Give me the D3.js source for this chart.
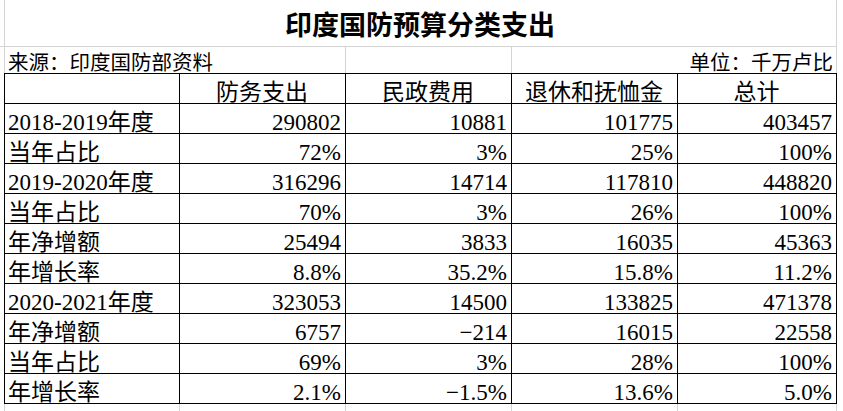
<!DOCTYPE html>
<html>
<head>
<meta charset="utf-8">
<script src="https://cdn.jsdelivr.net/npm/d3@7"></script>
<style>
  body { margin: 0; background: #fff; }
  text { font-family: 'Liberation Serif', 'Noto Sans CJK SC', serif; fill: #000; }
</style>
</head>
<body>
<svg class="chart"></svg>
<script>
var title = '印度国防预算分类支出';
var source = '来源：印度国防部资料';
var unit = '单位：千万卢比';

var categories = ['防务支出', '民政费用', '退休和抚恤金', '总计'];
var rowLabels = ['2018-2019年度', '当年占比', '2019-2020年度', '当年占比', '年净增额',
  '年增长率', '2020-2021年度', '年净增额', '当年占比', '年增长率'];
var rowFormat = ['d', '.0%', 'd', '.0%', 'd', '.1%', 'd', 'd', '.0%', '.1%'];

var defense = [290802, 0.72, 316296, 0.70, 25494, 0.088, 323053, 6757, 0.69, 0.021];
var civil = [10881, 0.03, 14714, 0.03, 3833, 0.352, 14500, -214, 0.03, -0.015];
var pension = [101775, 0.25, 117810, 0.26, 16035, 0.158, 133825, 16015, 0.28, 0.136];
var total = [403457, 1.00, 448820, 1.00, 45363, 0.112, 471378, 22558, 1.00, 0.050];
var series = [defense, civil, pension, total];

var width = 843;
var height = 411;
var colEdges = [4, 179, 345, 511, 677, 836];
var tableTop = 73;
var rowH = 30;
var grid = '#d4d4d4';

var svg = d3.select('.chart')
  .attr('width', width)
  .attr('height', height);

// rows: header + data rows
var rowKeys = ['header'].concat(rowLabels.map((d, i) => i));
var y = d3.scaleBand().domain(rowKeys).range([tableTop, tableTop + rowH * rowKeys.length]);
var x = d3.scaleOrdinal().domain(d3.range(colEdges.length)).range(colEdges);
var tableBottom = y.range()[1];

// light grid outside the table
var g = svg.append('g').attr('stroke', grid).attr('stroke-width', 1);
g.append('line').attr('x1', 0).attr('x2', 837).attr('y1', 46.5).attr('y2', 46.5);
[0, 5].forEach(i => {
  g.append('line').attr('x1', x(i) + 0.5).attr('x2', x(i) + 0.5).attr('y1', 0).attr('y2', tableTop);
});
[2, 3].forEach(i => {
  g.append('line').attr('x1', x(i) + 0.5).attr('x2', x(i) + 0.5).attr('y1', 46).attr('y2', tableTop);
});
d3.range(colEdges.length).forEach(i => {
  g.append('line').attr('x1', x(i) + 0.5).attr('x2', x(i) + 0.5).attr('y1', tableBottom).attr('y2', height);
});

// title and notes
svg.append('text')
  .attr('x', (colEdges[0] + colEdges[5]) / 2)
  .attr('y', 35)
  .attr('text-anchor', 'middle')
  .style('font-size', '27px')
  .style('font-weight', 'bold')
  .text(title);

svg.append('text')
  .attr('x', 8).attr('y', 70)
  .style('font-size', '20.5px')
  .text(source);

svg.append('text')
  .attr('x', 833).attr('y', 70)
  .attr('text-anchor', 'end')
  .style('font-size', '20.5px')
  .text(unit);

// table borders
var b = svg.append('g').attr('stroke', '#000').attr('stroke-width', 1);
rowKeys.concat(['end']).forEach((k, i) => {
  var yy = tableTop + i * rowH + 0.5;
  b.append('line').attr('x1', colEdges[0]).attr('x2', colEdges[5] + 1).attr('y1', yy).attr('y2', yy);
});
colEdges.forEach((c, i) => {
  b.append('line').attr('x1', x(i) + 0.5).attr('x2', x(i) + 0.5).attr('y1', tableTop).attr('y2', tableBottom + 1);
});

// header
svg.selectAll('.head')
  .data(categories)
  .enter().append('text')
  .attr('class', 'head')
  .attr('x', (d, i) => (x(i + 1) + x(i + 2)) / 2)
  .attr('y', y('header') + 26.5)
  .attr('text-anchor', 'middle')
  .style('font-size', '23px')
  .text(d => d);

// row labels
svg.selectAll('.label')
  .data(rowLabels)
  .enter().append('text')
  .attr('class', 'label')
  .attr('x', colEdges[0] + 4)
  .attr('y', (d, i) => y(i) + 26.5)
  .style('font-size', '23px')
  .text(d => d);

// cells
series.forEach((vals, c) => {
  svg.selectAll('.cell' + c)
    .data(vals)
    .enter().append('text')
    .attr('class', 'cell' + c)
    .attr('x', x(c + 2) - 4)
    .attr('y', (d, i) => y(i) + 26.5)
    .attr('text-anchor', 'end')
    .style('font-size', '23px')
    .text((d, i) => d3.format(rowFormat[i])(d));
});
</script>
</body>
</html>
